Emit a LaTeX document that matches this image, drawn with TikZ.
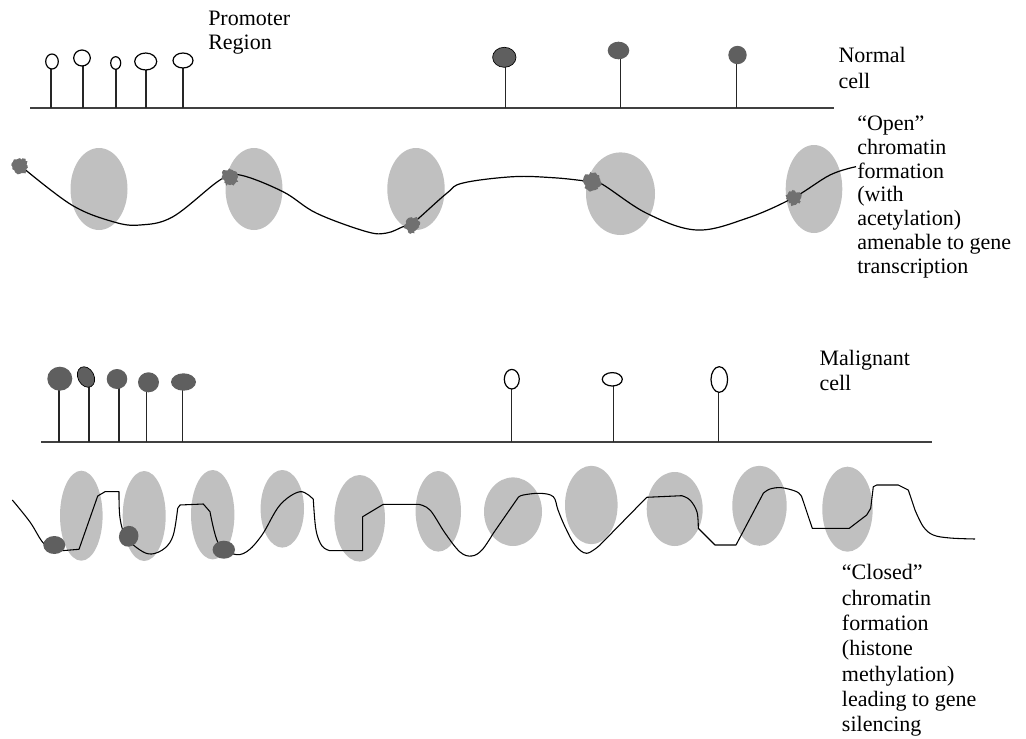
\documentclass[tikz,border=0pt]{standalone}
\usepackage{fontspec}
\setmainfont{Liberation Serif}
\usetikzlibrary{decorations.pathmorphing}

\definecolor{histgray}{HTML}{C0C0C0}
\definecolor{metgray}{HTML}{5F5F5F}
\definecolor{acegray}{HTML}{707070}

\begin{document}
\begin{tikzpicture}[x=0.75pt,y=-0.75pt,
  dnaline/.style={draw=black!75,line width=1.3pt},
  stem/.style={draw=black!85,line width=1pt},
  openpin/.style={draw=black,fill=white,line width=0.9pt},
  metpin/.style={fill=metgray},
  histone/.style={fill=histgray},
  acetyl/.style={fill=acegray,decorate,decoration={random steps,segment length=1.2pt,amplitude=1.1pt}},
  fiber/.style={draw=black,line width=0.9pt},
  lbl/.style={font=\fontsize{16.5}{18}\selectfont,align=left,anchor=base west,inner sep=0pt}]
\useasboundingbox (0,0) rectangle (1026,739);
\pgfmathsetseed{7}

% normal cell: promoter sites unmethylated
\draw[dnaline] (30,108) -- (834,108);
\draw[stem] (51,69) -- (51,108);
\draw[openpin] (52,61.5) ellipse [x radius=6.3,y radius=7.5];
\draw[stem] (83,66) -- (83,108);
\draw[openpin] (82,58) ellipse [x radius=8.3,y radius=8];
\draw[stem] (116,69.3) -- (116,108);
\draw[openpin] (115.7,63) ellipse [x radius=5,y radius=6.3];
\draw[stem] (146,70) -- (146,108);
\draw[openpin] (145.7,61.5) ellipse [x radius=11,y radius=8.5];
\draw[stem] (183,68) -- (183,108);
\draw[openpin] (183,60.5) ellipse [x radius=10,y radius=7.5];
\draw[stem] (505.7,67) -- (505.7,108);
\draw[metpin,draw=black,line width=0.5pt] (504.3,57.3) ellipse [x radius=11.7,y radius=10];
\draw[stem] (620.7,59) -- (620.7,108);
\fill[metpin] (618.5,50.5) ellipse [x radius=10.8,y radius=8.8];
\draw[stem] (736.7,64) -- (736.7,108);
\fill[metpin] (737.5,55) ellipse [x radius=9.2,y radius=9.2];

% labels are placed by the baseline of their last line
\node[lbl,font=\fontsize{16.5}{18.2}\selectfont] (promoter) at (208,49.3) {Promoter\\Region};
\node[lbl,font=\fontsize{16.5}{19.5}\selectfont] (normal) at (838.3,88.3) {Normal\\cell};

% open chromatin
\fill[histone] (99,189) ellipse [x radius=28.5,y radius=41];
\fill[histone] (254,189) ellipse [x radius=28.5,y radius=41];
\fill[histone] (416,189) ellipse [x radius=28.7,y radius=41];
\fill[histone] (620.5,193.7) ellipse [x radius=34.5,y radius=41.3];
\fill[histone] (814,189) ellipse [x radius=28.3,y radius=44];
\draw[fiber] plot[smooth,tension=0.6] coordinates {(22,167) (71.7,205) (113,221.7) (140,225) (173,216.7)
  (220,180) (240,175) (283,191.7) (316.7,213.3) (366.7,231.7) (386.7,233) (403,226.7) (413,223)
  (446.7,193.3) (463,183) (513,176.7) (553,177.7) (583,180.7) (600,183) (646.7,213.3) (696.7,230)
  (746.7,218.3) (793,198) (830,175) (856,166.7)};
\fill[acetyl] (20,166) circle [radius=7.5];
\fill[acetyl] (230,177) circle [radius=8];
\fill[acetyl] (412,225) circle [radius=7.5];
\fill[acetyl] (592,182) circle [radius=8.5];
\fill[acetyl] (794,198) circle [radius=7];

\node[lbl,font=\fontsize{16.5}{17.85}\selectfont] (open) at (857,273.3)
  {``Open''\\chromatin\\formation\\(with\\acetylation)\\amenable to gene\\transcription};

% malignant cell: promoter sites methylated
\draw[dnaline] (41,442) -- (932,442);
\draw[stem] (59,390) -- (59,442);
\fill[metpin] (59.8,378.7) ellipse [x radius=12.5,y radius=12];
\draw[stem] (89,384) -- (89,442);
\draw[metpin,draw=black,line width=0.5pt,rotate around={28:(86,377)}] (86,377) ellipse [x radius=8,y radius=10.8];
\draw[stem] (119,388) -- (119,442);
\fill[metpin] (117,379) ellipse [x radius=10.3,y radius=10];
\draw[stem] (146.7,392) -- (146.7,442);
\fill[metpin] (148.5,382.3) ellipse [x radius=10.5,y radius=10];
\draw[stem] (182.3,390) -- (182.3,442);
\fill[metpin] (183.5,382) ellipse [x radius=12.5,y radius=8.7];
\draw[stem] (511.7,389) -- (511.7,442);
\draw[openpin] (511.8,379.2) ellipse [x radius=7.5,y radius=9.8];
\draw[stem] (613.3,386) -- (613.3,442);
\draw[openpin] (612.3,379.3) ellipse [x radius=10,y radius=6.7];
\draw[stem] (718.3,392.3) -- (718.3,442);
\draw[openpin] (719.3,379.5) ellipse [x radius=8.3,y radius=12.8];

\node[lbl,font=\fontsize{16.5}{18.75}\selectfont] (malignant) at (819.3,390.7) {Malignant\\cell};

% closed chromatin
\fill[histone] (81.3,515.7) ellipse [x radius=21.3,y radius=45];
\fill[histone] (144.2,516) ellipse [x radius=21.5,y radius=45];
\fill[histone] (212.7,514.7) ellipse [x radius=21.7,y radius=44.7];
\fill[histone] (282.3,508.8) ellipse [x radius=21.7,y radius=38.8];
\fill[histone] (359.7,518.3) ellipse [x radius=25.3,y radius=43.3];
\fill[histone] (438.3,511.3) ellipse [x radius=22.7,y radius=40.3];
\fill[histone] (513,511.7) ellipse [x radius=29,y radius=34.3];
\fill[histone] (591.3,505) ellipse [x radius=26.3,y radius=39.2];
\fill[histone] (674.7,509) ellipse [x radius=28,y radius=37];
\fill[histone] (759.5,505.8) ellipse [x radius=27.2,y radius=40];
\fill[histone] (847.5,509.2) ellipse [x radius=25.2,y radius=42.5];
\draw[fiber,line width=0.8pt,line join=round]
  plot[smooth,tension=0.6] coordinates {(12.3,500) (30,522) (43.3,543) (55,549) (61.7,550.7)}
  -- (79,549.3) -- (97.7,496) -- (105,491.7) -- (119,491.7)
  -- plot[smooth,tension=0.6] coordinates {(119,491.7) (120,518) (126,537) (140,550) (151.7,554)
     (165,548) (173.3,535) (177.7,508.3)}
  -- (180,505) -- (203.3,504)
  -- plot[smooth,tension=0.6] coordinates {(210,511.7) (218.3,543.3) (233.3,554) (246.7,551.7)
     (262,535) (280,505) (300,491.7) (313.3,499.3)}
  -- plot[smooth,tension=0.6] coordinates {(313.3,499.3) (316,530) (322,546) (330,550.7)}
  -- (362.7,550.7) -- (362.7,516.7) -- (383.3,504.3) -- (418.3,504.3)
  -- plot[smooth,tension=0.6] coordinates {(418.3,504.3) (430,510) (445,533) (460,552) (471.7,556)
     (482,550) (493.3,533.3)}
  -- (518.3,497.3)
  -- plot[smooth,tension=0.6] coordinates {(518.3,497.3) (523.3,495) (540,493.3) (553.3,496.7)
     (558,510) (565,526.7) (575,545) (586.7,553.3) (600,545)}
  -- (646.7,497.3) -- (681.7,495.7)
  -- plot[smooth,tension=0.6] coordinates {(681.7,495.7) (690,500) (697,512) (698.3,528.3)}
  -- (715,545) -- (736,545) -- (763.3,493.3)
  -- plot[smooth,tension=0.6] coordinates {(763.3,493.3) (770,489) (781.7,487.7) (796.7,491.7)
     (801.7,496.7)}
  -- (812.3,528.3) -- (849.3,528.3) -- (866.7,515) -- (870.7,508.3) -- (873.3,486.7)
  -- (876.7,485) -- (898.3,485) -- (908.3,490) -- (915,510)
  -- plot[smooth,tension=0.6] coordinates {(915,510) (923.3,526.7) (933.3,535) (950,538) (975,539)};
\fill[metpin] (54.3,545) ellipse [x radius=11,y radius=9];
\fill[metpin,rotate around={-20:(128.7,536.3)}] (128.7,536.3) ellipse [x radius=9.7,y radius=10.5];
\fill[metpin] (223.8,549.7) ellipse [x radius=11.2,y radius=9];

\node[lbl,font=\fontsize{16.5}{19}\selectfont] (closed) at (841.7,731.7)
  {``Closed''\\chromatin\\formation\\(histone\\methylation)\\leading to gene\\silencing};
\end{tikzpicture}
\end{document}
